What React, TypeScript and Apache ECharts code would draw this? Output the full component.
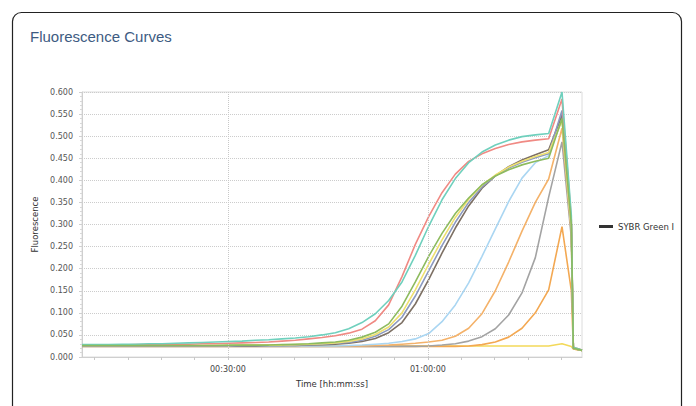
import React, { useEffect, useRef } from "react";
import * as echarts from "echarts";

// Cycle read times, in seconds from run start
const timesSec = [
  486, 606, 726, 846, 966, 1086, 1206, 1326, 1446, 1566,
  1686, 1806, 1926, 2046, 2166, 2286, 2406, 2526, 2646, 2766,
  2886, 3006, 3126, 3246, 3366, 3486, 3606, 3726, 3846, 3966,
  4086, 4206, 4326, 4446, 4566, 4686, 4806, 4890, 4908, 4986,
];

// Fluorescence per well
const flatYellow = [
  0.025, 0.025, 0.025, 0.025, 0.025, 0.025, 0.025, 0.025, 0.025, 0.025,
  0.025, 0.025, 0.025, 0.025, 0.025, 0.025, 0.025, 0.025, 0.025, 0.025,
  0.025, 0.025, 0.025, 0.025, 0.025, 0.025, 0.025, 0.025, 0.025, 0.025,
  0.025, 0.025, 0.025, 0.025, 0.025, 0.025, 0.030, 0.024, 0.018, 0.015,
];
const lateOrange = [
  0.024, 0.024, 0.024, 0.024, 0.024, 0.024, 0.024, 0.024, 0.024, 0.024,
  0.024, 0.024, 0.024, 0.024, 0.024, 0.024, 0.024, 0.024, 0.024, 0.024,
  0.024, 0.024, 0.024, 0.024, 0.024, 0.024, 0.024, 0.024, 0.024, 0.025,
  0.028, 0.034, 0.045, 0.065, 0.100, 0.152, 0.295, 0.150, 0.018, 0.015,
];
const gray = [
  0.024, 0.024, 0.024, 0.024, 0.024, 0.024, 0.024, 0.024, 0.024, 0.024,
  0.024, 0.024, 0.024, 0.024, 0.024, 0.024, 0.024, 0.024, 0.024, 0.024,
  0.024, 0.024, 0.024, 0.024, 0.024, 0.024, 0.025, 0.027, 0.030, 0.036,
  0.046, 0.064, 0.095, 0.145, 0.225, 0.362, 0.487, 0.270, 0.020, 0.015,
];
const orange = [
  0.025, 0.025, 0.025, 0.025, 0.025, 0.025, 0.025, 0.025, 0.025, 0.025,
  0.025, 0.025, 0.025, 0.025, 0.025, 0.025, 0.025, 0.025, 0.025, 0.025,
  0.025, 0.025, 0.026, 0.027, 0.029, 0.031, 0.034, 0.038, 0.047, 0.065,
  0.098, 0.150, 0.215, 0.285, 0.350, 0.403, 0.518, 0.280, 0.020, 0.015,
];
const lightBlue = [
  0.025, 0.025, 0.025, 0.025, 0.025, 0.025, 0.025, 0.025, 0.025, 0.025,
  0.025, 0.025, 0.025, 0.025, 0.025, 0.025, 0.025, 0.025, 0.025, 0.025,
  0.026, 0.027, 0.029, 0.031, 0.035, 0.041, 0.053, 0.080, 0.118, 0.168,
  0.228, 0.290, 0.352, 0.405, 0.440, 0.456, 0.540, 0.290, 0.020, 0.015,
];
const brown = [
  0.025, 0.025, 0.025, 0.025, 0.025, 0.025, 0.025, 0.025, 0.025, 0.025,
  0.025, 0.025, 0.025, 0.025, 0.026, 0.026, 0.026, 0.027, 0.028, 0.029,
  0.031, 0.035, 0.042, 0.055, 0.078, 0.120, 0.175, 0.235, 0.292, 0.342,
  0.382, 0.410, 0.431, 0.446, 0.458, 0.469, 0.548, 0.300, 0.020, 0.015,
];
const blueGrey = [
  0.025, 0.025, 0.025, 0.025, 0.025, 0.025, 0.025, 0.025, 0.025, 0.025,
  0.025, 0.025, 0.026, 0.026, 0.026, 0.026, 0.027, 0.028, 0.029, 0.031,
  0.033, 0.038, 0.047, 0.062, 0.090, 0.138, 0.195, 0.252, 0.305, 0.350,
  0.385, 0.410, 0.428, 0.441, 0.451, 0.460, 0.558, 0.300, 0.020, 0.015,
];
const yellow = [
  0.026, 0.026, 0.026, 0.026, 0.026, 0.026, 0.026, 0.026, 0.026, 0.026,
  0.026, 0.026, 0.027, 0.027, 0.027, 0.027, 0.028, 0.029, 0.030, 0.032,
  0.035, 0.041, 0.051, 0.068, 0.100, 0.152, 0.210, 0.265, 0.316, 0.357,
  0.389, 0.412, 0.430, 0.443, 0.454, 0.463, 0.535, 0.290, 0.020, 0.015,
];
const salmon = [
  0.027, 0.027, 0.027, 0.027, 0.028, 0.028, 0.028, 0.029, 0.029, 0.030,
  0.030, 0.031, 0.032, 0.033, 0.034, 0.036, 0.038, 0.041, 0.044, 0.048,
  0.054, 0.063, 0.082, 0.118, 0.182, 0.255, 0.318, 0.372, 0.414, 0.443,
  0.460, 0.472, 0.481, 0.487, 0.491, 0.494, 0.584, 0.310, 0.022, 0.016,
];
const teal = [
  0.028, 0.028, 0.028, 0.029, 0.029, 0.030, 0.030, 0.031, 0.032, 0.033,
  0.034, 0.035, 0.036, 0.038, 0.039, 0.041, 0.043, 0.046, 0.050, 0.055,
  0.064, 0.078, 0.098, 0.128, 0.170, 0.230, 0.296, 0.356, 0.404, 0.440,
  0.464, 0.480, 0.491, 0.499, 0.503, 0.506, 0.600, 0.320, 0.022, 0.016,
];
const green = [
  0.026, 0.026, 0.026, 0.026, 0.026, 0.026, 0.026, 0.026, 0.026, 0.026,
  0.026, 0.027, 0.027, 0.027, 0.027, 0.028, 0.029, 0.030, 0.032, 0.034,
  0.038, 0.045, 0.056, 0.075, 0.115, 0.170, 0.228, 0.280, 0.325, 0.360,
  0.390, 0.410, 0.424, 0.435, 0.443, 0.450, 0.540, 0.300, 0.020, 0.015,
];

const wells = [
  flatYellow, lateOrange, gray, orange, lightBlue, brown,
  blueGrey, yellow, salmon, teal, green,
];
const wellColors = [
  "#f3d95a", "#f3a852", "#a3a3a3", "#f4b26a", "#aad6f2", "#7d7064",
  "#8c9ac0", "#eee070", "#f08a84", "#6fd0bd", "#8dbb5e",
];

const xMin = 486;
const xMax = 4986;
const xTickValues = [600, 900, 1200, 1500, 1800, 2100, 2400, 2700, 3000, 3300, 3600, 3900, 4200, 4500, 4800];
const xLabelValues = [1800, 3600];
const dyeName = "SYBR Green I";

const pad = (n: number) => String(n).padStart(2, "0");
const hms = (s: number) => {
  const h = Math.floor(s / 3600);
  const m = Math.floor((s % 3600) / 60);
  const sec = Math.round(s % 60);
  return `${pad(h)}:${pad(m)}:${pad(sec)}`;
};

const smallFont = "DejaVu Sans, Verdana, sans-serif";

export default function App() {
  const ref = useRef<HTMLDivElement>(null);

  useEffect(() => {
    if (!ref.current) return;
    const chart = echarts.init(ref.current, undefined, { renderer: "svg" });

    const curveSeries = wells.map((vals, i) => ({
      type: "line",
      name: dyeName,
      data: timesSec.map((t, j) => [t, vals[j]]),
      showSymbol: false,
      symbol: "none",
      lineStyle: { color: wellColors[i], width: 1.6 },
      itemStyle: { color: wellColors[i] },
      emphasis: { disabled: true },
      z: 3,
    }));

    chart.setOption({
      animation: false,
      title: {
        text: "Fluorescence Curves",
        left: 25,
        top: 24,
        textStyle: {
          fontSize: 15,
          fontWeight: "normal",
          color: "#3d5b82",
          fontFamily: "Liberation Sans, Arial, sans-serif",
        },
      },
      graphic: [
        {
          type: "rect",
          shape: { x: 12.5, y: 12.5, width: 669, height: 440, r: 9 },
          style: { fill: "none", stroke: "#222", lineWidth: 1.2 },
          silent: true,
          z: -1,
        },
      ],
      legend: {
        data: [{ name: dyeName, icon: "rect", itemStyle: { color: "#333" } }],
        orient: "vertical",
        left: 594,
        top: 217,
        itemWidth: 14,
        itemHeight: 3,
        selectedMode: false,
        textStyle: { fontSize: 8.5, color: "#333", fontFamily: smallFont },
      },
      grid: {
        left: 82,
        top: 92,
        right: 114,
        bottom: 49,
        show: true,
        borderColor: "#dcdcdc",
        borderWidth: 1,
      },
      xAxis: {
        type: "value",
        min: xMin,
        max: xMax,
        name: "Time [hh:mm:ss]",
        nameLocation: "middle",
        nameGap: 22,
        nameTextStyle: { fontSize: 8.5, color: "#333", fontFamily: smallFont },
        axisLine: { show: true, lineStyle: { color: "#cfcfcf" } },
        axisTick: {
          show: true,
          customValues: xTickValues,
          length: 3,
          lineStyle: { color: "#c8c8c8" },
        },
        axisLabel: {
          customValues: xLabelValues,
          formatter: (v: number) => hms(v),
          fontSize: 8,
          color: "#444",
          margin: 8,
          fontFamily: smallFont,
        },
        splitLine: { show: false },
      },
      yAxis: {
        type: "value",
        min: 0,
        max: 0.6,
        interval: 0.05,
        name: "Fluorescence",
        nameLocation: "middle",
        nameGap: 38,
        nameTextStyle: { fontSize: 8.5, color: "#333", fontFamily: smallFont },
        axisLine: { show: true, lineStyle: { color: "#cfcfcf" } },
        axisTick: { show: true, length: 3, lineStyle: { color: "#cfcfcf" } },
        minorTick: { show: true, splitNumber: 5, length: 2, lineStyle: { color: "#d8d8d8" } },
        axisLabel: {
          formatter: (v: number) => v.toFixed(3),
          fontSize: 8,
          color: "#555",
          margin: 9,
          fontFamily: smallFont,
        },
        splitLine: { show: true, lineStyle: { type: "dotted", color: "#cccccc", width: 1 } },
      },
      series: [
        {
          type: "line",
          name: "time-grid",
          data: [],
          silent: true,
          z: 1,
          markLine: {
            silent: true,
            symbol: ["none", "none"],
            label: { show: false },
            lineStyle: { type: "dotted", color: "#c8c8c8", width: 1 },
            data: xLabelValues.map((v) => ({ xAxis: v })),
          },
        },
        ...curveSeries,
      ],
    });

    return () => chart.dispose();
  }, []);

  return (
    <div
      ref={ref}
      style={{ position: "absolute", left: 0, top: 0, width: 696, height: 406, background: "#fff" }}
    />
  );
}
